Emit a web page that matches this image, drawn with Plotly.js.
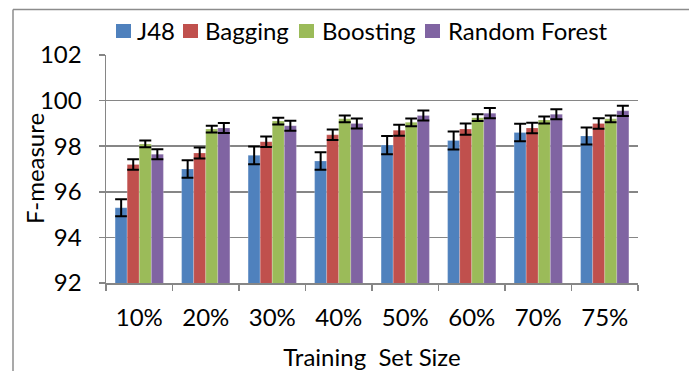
<!DOCTYPE html>
<html>
<head>
<meta charset="utf-8">
<script src="https://cdn.plot.ly/plotly-3.0.1.min.js"></script>
<style>
  html, body { margin: 0; padding: 0; background: #fff; }
  #chart { width: 689px; height: 371px; }
</style>
</head>
<body>
<div id="chart"></div>
<script>
// Training set sizes on the x axis
const categories = ['10%', '20%', '30%', '40%', '50%', '60%', '70%', '75%'];

// Mean F-measure per classifier
const j48      = [95.3, 97.0, 97.6, 97.35, 98.05, 98.25, 98.6, 98.45];
const bagging  = [97.2, 97.7, 98.2, 98.5, 98.7, 98.75, 98.8, 99.0];
const boosting = [98.1, 98.75, 99.1, 99.2, 99.05, 99.25, 99.15, 99.2];
const forest   = [97.65, 98.8, 98.9, 99.0, 99.35, 99.45, 99.4, 99.55];

// Standard deviations shown as error bars
const j48Err      = [0.37, 0.38, 0.39, 0.38, 0.40, 0.39, 0.38, 0.37];
const baggingErr  = [0.23, 0.24, 0.23, 0.23, 0.24, 0.25, 0.23, 0.23];
const boostingErr = [0.15, 0.15, 0.15, 0.15, 0.17, 0.15, 0.15, 0.15];
const forestErr   = [0.22, 0.22, 0.22, 0.22, 0.22, 0.22, 0.22, 0.22];

const seriesNames = ['J48', 'Bagging', 'Boosting', 'Random Forest'];
const yTicks = [92, 94, 96, 98, 100, 102];

const colors = ['#4F81BD', '#C0504D', '#9BBB59', '#8064A2'];
const values = [j48, bagging, boosting, forest];
const errors = [j48Err, baggingErr, boostingErr, forestErr];

const FONT = 'Lato, "Open Sans", sans-serif';
const W = 689, H = 371;
const M = { l: 106, r: 51, t: 55, b: 88 };
const pw = W - M.l - M.r, ph = H - M.t - M.b;
const px = x => (x - M.l) / pw;        // pixel x -> paper x
const py = y => (H - M.b - y) / ph;    // pixel y -> paper y

const traces = seriesNames.map((name, i) => ({
  type: 'bar',
  name: name,
  x: categories,
  y: values[i],
  marker: { color: colors[i], line: { color: 'rgba(255,255,255,0.35)', width: 0.6 } },
  error_y: { type: 'data', array: errors[i], visible: true, color: '#000', thickness: 2, width: 6 }
}));

// Legend row along the top: swatch left edges and label starts (px)
const legendSwatchX = [116, 183, 299, 425];
const legendLabelX  = [136, 204, 321, 447];
const legendY = 31;

const shapes = [
  // chart area border (top and left edges)
  { type: 'line', xref: 'paper', yref: 'paper', x0: px(13), x1: px(W + 5), y0: py(9.5), y1: py(9.5),
    line: { color: '#8c8c8c', width: 1.5 } },
  { type: 'line', xref: 'paper', yref: 'paper', x0: px(13), x1: px(13), y0: py(9.5), y1: py(H + 5),
    line: { color: '#8c8c8c', width: 1.5 } }
];
const annotations = [];
seriesNames.forEach((name, i) => {
  shapes.push({
    type: 'rect', xref: 'paper', yref: 'paper',
    x0: px(legendSwatchX[i]), x1: px(legendSwatchX[i] + 15),
    y0: py(legendY - 7), y1: py(legendY + 7),
    fillcolor: colors[i], line: { width: 0 }
  });
  annotations.push({
    xref: 'paper', yref: 'paper', showarrow: false,
    x: px(legendLabelX[i]), xanchor: 'left',
    y: py(legendY), yanchor: 'middle',
    borderpad: 0,
    text: name,
    font: { family: FONT, size: 24, color: '#000' }
  });
});
// y axis title
annotations.push({
  xref: 'paper', yref: 'paper', showarrow: false,
  x: px(34), xanchor: 'center',
  y: py(169), yanchor: 'middle',
  textangle: -90, borderpad: 0,
  text: 'F-measure',
  font: { family: FONT, size: 24, color: '#000' }
});

const layout = {
  width: W, height: H,
  margin: M,
  paper_bgcolor: '#fff',
  plot_bgcolor: '#fff',
  font: { family: FONT, color: '#000', size: 24 },
  barmode: 'group',
  bargap: 0.274,
  bargroupgap: 0,
  showlegend: false,
  xaxis: {
    type: 'category',
    tickson: 'boundaries',
    ticks: 'outside', ticklen: 6, tickcolor: '#868686', tickwidth: 1.5,
    showline: true, linecolor: '#868686', linewidth: 1.5,
    showgrid: false,
    tickfont: { family: FONT, size: 24, color: '#000' },
    ticklabelstandoff: 13,
    title: { text: 'Training\u00a0 Set Size', font: { family: FONT, size: 24, color: '#000' }, standoff: 20 }
  },
  yaxis: {
    range: [92, 102],
    tickvals: yTicks,
    ticktext: yTicks.map(String),
    ticks: 'outside', ticklen: 6, tickcolor: '#868686', tickwidth: 1.5,
    showline: true, linecolor: '#868686', linewidth: 1.5,
    showgrid: true, gridcolor: '#868686', gridwidth: 1.5,
    zeroline: false,
    tickfont: { family: FONT, size: 24, color: '#000' },
    ticklabelstandoff: 12
  },
  shapes: shapes,
  annotations: annotations
};

Plotly.newPlot('chart', traces, layout, { staticPlot: true, displayModeBar: false });
</script>
</body>
</html>
